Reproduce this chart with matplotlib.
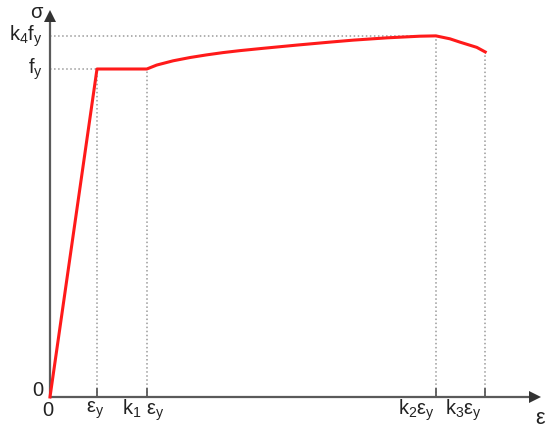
import numpy as np
import matplotlib.pyplot as plt

plt.rcParams['font.family'] = ['Liberation Sans', 'DejaVu Sans']
plt.rcParams['mathtext.fontset'] = 'custom'
plt.rcParams['mathtext.rm'] = 'Liberation Sans'
plt.rcParams['mathtext.it'] = 'Liberation Sans'

# strain in units of eps_y, stress in units of f_y
k1 = 2.06
k2 = 8.21
k3 = 9.26
k4 = 1.10

strain = [0.0, 1.0, 2.06, 2.27, 2.62, 2.98, 3.33, 3.68, 4.04, 4.53, 5.26, 5.96,
          6.45, 7.17, 7.87, 8.21, 8.51, 8.72, 9.08, 9.26]
stress = [0.0, 1.0, 1.0, 1.012, 1.025, 1.035, 1.043, 1.050, 1.056, 1.063, 1.073, 1.082,
          1.088, 1.095, 1.100, 1.101, 1.092, 1.082, 1.066, 1.052]

x_ticks = [0.0, 1.0, k1, k2, k3]
x_labels = ['0', r'ε$_\mathregular{y}$', r'k$_\mathregular{1}$ ε$_\mathregular{y}$',
            r'k$_\mathregular{2}$ε$_\mathregular{y}$', r'k$_\mathregular{3}$ε$_\mathregular{y}$']
x_label_shift = [-2, -2, -4, -19, -22]   # px
y_ticks = [0.0, 1.0, k4]
y_labels = ['0', r'f$_\mathregular{y}$', r'k$_\mathregular{4}$f$_\mathregular{y}$']
y_label_shift = [6, 0, 0]   # px

W, H = 550, 434
sx, sy = 47.0, 328.0  # px per unit
x0, y0 = 50.0, 37.0   # origin px (from left / bottom)

fig = plt.figure(figsize=(W / 100, H / 100), dpi=100)
ax = fig.add_axes([0, 0, 1, 1])
ax.set_xlim(-x0 / sx, (W - x0) / sx)
ax.set_ylim(-y0 / sy, (H - y0) / sy)
ax.axis('off')

pt = 0.72  # points per px
axis_col = '#5a5a5a'
x_end = (535 - x0) / sx
y_end = (H - 16 - y0) / sy

# axes lines + arrow heads
ax.plot([0, x_end], [0, 0], color=axis_col, lw=1.6, zorder=4, solid_capstyle='butt')
ax.plot([0, 0], [0, y_end], color=axis_col, lw=1.6, zorder=4, solid_capstyle='butt')
ax.plot([x_end], [0], marker='>', ms=8, color='#333333', mew=0, zorder=4)
ax.plot([0], [y_end], marker='^', ms=8, color='#333333', mew=0, zorder=4)

# dotted guides
for v in x_ticks[1:]:
    idx = int(np.argmin(np.abs(np.array(strain) - v)))
    ax.plot([v, v], [0, stress[idx]], ls=':', color='#9a9a9a', lw=1.1)
    ax.plot([v, v], [0, 8 / sy], color=axis_col, lw=1.3)
ax.plot([0, k2], [k4, k4], ls=':', color='#9a9a9a', lw=1.1)
ax.plot([0, 1.0], [1.0, 1.0], ls=':', color='#9a9a9a', lw=1.1)

ax.plot(strain, stress, color='#ff1a1a', lw=2.2, solid_joinstyle='round', zorder=5)

fs = 14.5
for v, lab, d in zip(x_ticks, x_labels, x_label_shift):
    ax.annotate(lab, xy=(v, 0), xytext=(d * pt, -13 * pt), textcoords='offset points',
                ha='center', va='center', fontsize=fs, color='#222222')
for v, lab, d in zip(y_ticks, y_labels, y_label_shift):
    ax.annotate(lab, xy=(0, v), xytext=(-7 * pt, d * pt), textcoords='offset points',
                ha='right', va='center', fontsize=fs, color='#222222')

ax.annotate('σ', xy=(0, y_end), xytext=(-14 * pt, 4 * pt), textcoords='offset points',
            ha='center', va='center', fontsize=fs, color='#222222')
ax.annotate('ε', xy=(x_end, 0), xytext=(5 * pt, -22 * pt), textcoords='offset points',
            ha='center', va='center', fontsize=fs + 1, color='#222222')

fig.savefig('out.png', dpi=100)
